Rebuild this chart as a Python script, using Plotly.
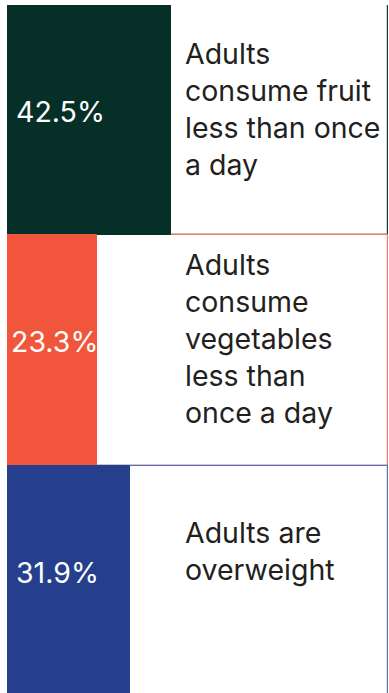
import plotly.graph_objects as go

# Adult diet and weight indicators (percent of adults)
indicators = [
    "Adults<br>consume fruit<br>less than once<br>a day",
    "Adults<br>consume<br>vegetables<br>less than<br>once a day",
    "Adults are<br>overweight",
]
percent = [42.5, 23.3, 31.9]
value_labels = ["42.5%", "23.3%", "31.9%"]

colors = ["#062f27", "#f1553b", "#253f8c"]
outline_colors = ["#0f3d34", "#f37a63", "#5a72b5"]

rows = list(range(len(percent)))
x_max = 99.2
panel_extent = 99.0

fig = go.Figure()

# White panel behind each bar, outlined in the row colour
fig.add_trace(go.Bar(
    y=rows, x=[panel_extent] * len(rows), orientation="h", width=1,
    marker=dict(color="white", line=dict(color=outline_colors, width=1.2)),
    hoverinfo="skip", showlegend=False,
))

# Coloured bar sized by the percentage
fig.add_trace(go.Bar(
    y=rows, x=percent, orientation="h", width=1,
    marker=dict(color=colors, line=dict(color=colors, width=1)),
    hoverinfo="skip", showlegend=False,
))

FONT = "Inter, 'Open Sans', sans-serif"
value_shift = [7, 2, 7]
value_yshift = [9, 9, 9]
text_yshift = [11, 12, 30]

for i in rows:
    fig.add_annotation(
        x=0, y=i, xref="x", yref="y", text=value_labels[i],
        xanchor="left", yanchor="middle", xshift=value_shift[i], yshift=value_yshift[i],
        showarrow=False, font=dict(family=FONT, size=28.5, color="white"),
    )
    fig.add_annotation(
        x=0, y=i, xref="x", yref="y", text=indicators[i], align="left",
        xanchor="left", yanchor="middle", xshift=176, yshift=text_yshift[i],
        showarrow=False, font=dict(family=FONT, size=28.5, color="#231f20"),
    )

fig.update_layout(
    width=389, height=693,
    margin=dict(l=7, r=0, t=5, b=0),
    paper_bgcolor="white", plot_bgcolor="white",
    barmode="overlay", bargap=0,
    xaxis=dict(range=[0, x_max], visible=False, fixedrange=True),
    yaxis=dict(range=[2.485, -0.5], visible=False, fixedrange=True),
)

fig.write_html("out.html")
